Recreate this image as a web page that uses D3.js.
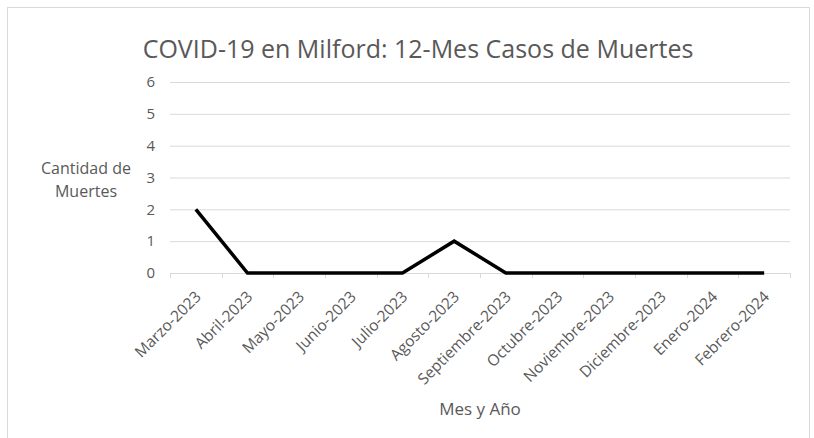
<!DOCTYPE html>
<html><head><meta charset="utf-8">
<script src="https://cdn.jsdelivr.net/npm/d3@7"></script>
<style>body{margin:0;background:#fff}svg{display:block}text{font-family:"Open Sans","Liberation Sans",sans-serif}</style>
</head><body><svg id="c" width="814" height="438"></svg>
<script>
const categories = ["Marzo-2023","Abril-2023","Mayo-2023","Junio-2023","Julio-2023","Agosto-2023","Septiembre-2023","Octubre-2023","Noviembre-2023","Diciembre-2023","Enero-2024","Febrero-2024"];
const deaths = [2,0,0,0,0,1,0,0,0,0,0,0];
const yTicks = [0,1,2,3,4,5,6];
const title = "COVID-19 en Milford: 12-Mes Casos de Muertes";
const yTitle = ["Cantidad de","Muertes"];
const xTitle = "Mes y Año";

const svg = d3.select("#c");
svg.append("rect").attr("x",7.5).attr("y",7.5).attr("width",802).attr("height",440).attr("fill","#fff").attr("stroke","#d9d9d9");

const L=170,R=790,T=82,B=273;
const x = d3.scaleBand().domain(categories).range([L,R]);
const y = d3.scaleLinear().domain([0,6]).range([B,T]);

// gridlines
svg.append("g").selectAll("line").data(yTicks.filter(d=>d>0)).join("line")
  .attr("x1",L).attr("x2",R).attr("y1",d=>y(d)+0.5).attr("y2",d=>y(d)+0.5)
  .attr("stroke","#d9d9d9").attr("stroke-width",1);

// y axis labels
const ya = svg.append("g").attr("transform",`translate(${L},0)`)
  .call(d3.axisLeft(y).tickValues(yTicks).tickSize(0).tickPadding(15).tickFormat(d3.format("d")));
ya.select(".domain").remove();
ya.selectAll("text").attr("fill","#595959").style("font-size","15px");

// x axis
const xa = svg.append("g").attr("transform",`translate(0,${B+0.5})`)
  .call(d3.axisBottom(x).tickSize(0).tickFormat(d=>d));
xa.select(".domain").attr("stroke","#d9d9d9").attr("d",`M${L},0H${R}`);
xa.selectAll("text").attr("fill","#595959").style("font-size","15.5px")
  .attr("text-anchor","end").attr("dy",0)
  .attr("transform","translate(4,22) rotate(-45)");
// tick marks at band boundaries
svg.append("g").selectAll("line").data(categories.concat([null])).join("line")
  .attr("x1",(d,i)=>Math.round(L+i*x.step())+0.5).attr("x2",(d,i)=>Math.round(L+i*x.step())+0.5)
  .attr("y1",B).attr("y2",B+5).attr("stroke","#d9d9d9");

// line
const line = d3.line().x((d,i)=>x(categories[i])+x.bandwidth()/2).y(d=>y(d));
svg.append("path").datum(deaths).attr("d",line).attr("fill","none")
  .attr("stroke","#000").attr("stroke-width",3.5).attr("stroke-linejoin","miter");

// titles
svg.append("text").attr("x",418).attr("y",58).attr("text-anchor","middle")
  .attr("fill","#595959").style("font-size","25px").text(title);
svg.append("text").attr("x",86).attr("y",174).attr("text-anchor","middle")
  .attr("fill","#595959").style("font-size","16px")
  .selectAll("tspan").data(yTitle).join("tspan").attr("x",86).attr("dy",(d,i)=>i?23:0).text(d=>d);
svg.append("text").attr("x",480).attr("y",415).attr("text-anchor","middle")
  .attr("fill","#595959").style("font-size","17px").text(xTitle);
</script></body></html>
